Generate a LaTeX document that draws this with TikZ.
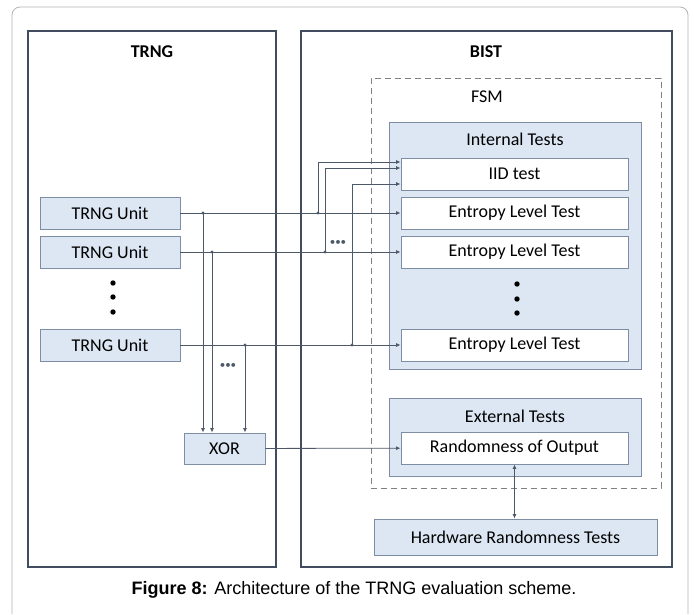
\documentclass[tikz,border=0pt]{standalone}
\usepackage{fontspec}
\setmainfont{Carlito}
\newfontfamily\capfont{Liberation Sans}
\usetikzlibrary{arrows.meta, positioning}

\definecolor{boxfill}{HTML}{DCE7F3}
\definecolor{boxline}{HTML}{7D8DA3}
\definecolor{framecol}{HTML}{414D5E}
\definecolor{wirecol}{HTML}{4D5868}

\begin{document}
\begin{tikzpicture}[
    x=1pt, y=-1pt,
    >={Latex[length=4.5pt,width=4pt]},
    node distance=39pt,
    on grid,
    font=\fontsize{18}{21}\selectfont,
    frame/.style={draw=framecol, line width=1.8pt, inner sep=0pt},
    blk/.style={draw=boxline, fill=boxfill, line width=0.9pt, inner sep=0pt},
    tst/.style={draw=boxline, fill=white, line width=0.9pt, inner sep=0pt,
                minimum width=227pt, minimum height=32pt},
    unit/.style={blk, minimum width=140pt, minimum height=32pt},
    wire/.style={draw=wirecol, line width=0.8pt},
    arr/.style={wire, ->},
    dot/.style={fill=wirecol},
    more/.style={font=\fontsize{11}{11}\selectfont, text=wirecol},
]
    \useasboundingbox (0,0) rectangle (694,614);

    % page border
    \draw[black!30, line width=0.8pt, rounded corners=8pt]
        (12,614) -- (12,7) -- (688,7) -- (688,614);

    % the two halves
    \node[frame, minimum width=248pt, minimum height=536pt] (trng) at (152,299) {};
    \node[frame, minimum width=371pt, minimum height=536pt] (bist) at (486.5,299) {};
    \node[font=\fontsize{18}{21}\selectfont\bfseries] (trngt) at (152,52) {TRNG};
    \node[font=\fontsize{18}{21}\selectfont\bfseries] (bistt) at (486,52) {BIST};

    % FSM
    \node[draw=black!50, dash pattern=on 6pt off 4pt, line width=0.9pt, inner sep=0pt,
          minimum width=290pt, minimum height=410pt] (fsm) at (516,283) {};
    \node (fsmt) at (487,97) {FSM};

    % TRNG units
    \node[unit]                   (u1) at (110,213) {TRNG Unit};
    \node[unit, below=of u1]      (u2) {TRNG Unit};
    \node[unit, below=93pt of u2] (u3) {TRNG Unit};
    \foreach \y in {283,297,312}
        \fill (113,\y) circle (2.7pt);
    \node[blk, minimum width=81pt, minimum height=31pt] (xor) at (224.5,448.5) {XOR};

    % internal tests
    \node[blk, minimum width=252pt, minimum height=247pt] (int) at (515,245.5) {};
    \node (intt) at (515,139) {Internal Tests};
    \node[tst]                   (iid) at (514.5,174) {IID test};
    \node[tst, below=of iid]     (e1) {Entropy Level Test};
    \node[tst, below=of e1]      (e2) {Entropy Level Test};
    \node[tst, below=93pt of e2] (e3) {Entropy Level Test};
    \foreach \y in {284,299,313}
        \fill (517,\y) circle (2.7pt);

    % external tests
    \node[blk, minimum width=252pt, minimum height=78pt] (ext) at (515,437) {};
    \node (extt) at (515,416) {External Tests};
    \node[tst] (rnd) at (514.5,448) {Randomness of Output};
    \node[blk, minimum width=283pt, minimum height=36pt] (hw) at (515.5,537) {Hardware Randomness Tests};

    % branch points
    \coordinate (j1) at (203,213);
    \coordinate (j2) at (212,252);
    \coordinate (j3) at (245,345);
    \coordinate (k1) at (318,213);
    \coordinate (k2) at (325,252);
    \coordinate (k3) at (352,345);

    \draw[arr] (u1) -- (e1);
    \draw[arr] (u2) -- (e2);
    \draw[arr] (u3) -- (e3);
    \draw[arr] (xor) -- (rnd);

    \draw[arr] (j1) -- (j1 |- xor.north);
    \draw[arr] (j2) -- (j2 |- xor.north);
    \draw[arr] (j3) -- (j3 |- xor.north);

    \draw[arr] (k1) |- ([yshift=12pt]iid.west);
    \draw[arr] (k2) |- ([yshift=6pt]iid.west);
    \draw[arr] (k3) |- ([yshift=-10pt]iid.west);

    \draw[wire, <->] (rnd.south) -- (rnd.south |- hw.north);

    \foreach \p in {j1,j2,j3,k1,k2,k3}
        \fill[dot] (\p) circle (1.6pt);

    \node[more] (more1) at (338,243) {•••};
    \node[more] (more2) at (228,366) {•••};

    % caption
    \node[font=\capfont\fontsize{18}{21}\selectfont] (cap) at (354,590)
        {\textbf{Figure 8:} Architecture of the TRNG evaluation scheme.};
\end{tikzpicture}
\end{document}
